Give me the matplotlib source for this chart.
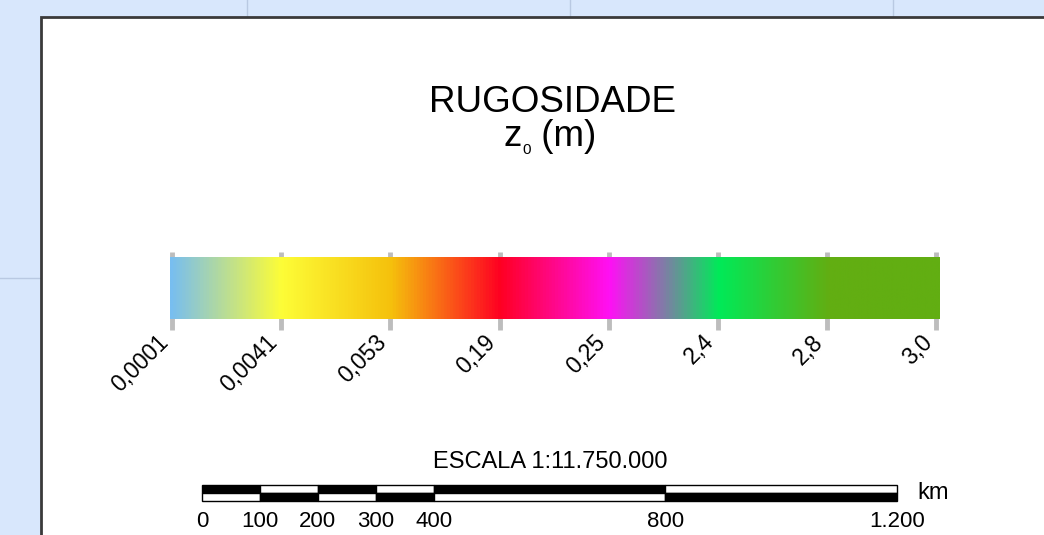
import matplotlib
matplotlib.use("Agg")
import matplotlib.pyplot as plt
import numpy as np
from matplotlib.colors import LinearSegmentedColormap
from matplotlib.patches import Rectangle

plt.rcParams['font.family'] = ['Liberation Sans', 'DejaVu Sans']

# dados da legenda
rotulos = ['0,0001', '0,0041', '0,053', '0,19', '0,25', '2,4', '2,8', '3,0']
cores = ['#78bef0', '#fdfd37', '#f5c10c', '#ff0022', '#ff10f5', '#00ea58', '#62ae12', '#62ae12']

# escala grafica (km)
escala_km = [0, 100, 200, 300, 400, 800, 1200]
escala_rot = ['0', '100', '200', '300', '400', '800', '1.200']

W, H = 1044, 535
fig = plt.figure(figsize=(W / 100, H / 100), dpi=100)
fig.patch.set_facecolor('#d8e7fc')

# fundo com grade do mapa e painel branco
bg = fig.add_axes([0, 0, 1, 1])
bg.set_xlim(0, W)
bg.set_ylim(H, 0)
bg.axis('off')
for gx in [247, 570, 893]:
    bg.plot([gx, gx], [0, H], color='#b9c9e2', lw=1)
bg.plot([0, W], [278, 278], color='#b9c9e2', lw=1)
bg.add_patch(Rectangle((41, 17), W, H, facecolor='white', edgecolor='#3a3a3a', lw=2, zorder=3))

bg.text(552, 112, 'RUGOSIDADE', fontsize=26.5, ha='center', va='baseline', zorder=4)

# z0 (m) com subscrito pequeno, montado em partes
rend = fig.canvas.get_renderer()
partes = [('z', 26.5, 0), ('0', 11, 8), (' (m)', 26.5, 0)]
larg = []
for s, fs, dy in partes:
    t = bg.text(0, 0, s, fontsize=fs)
    larg.append(t.get_window_extent(rend).width)
    t.remove()
x = 550 - sum(larg) / 2
for (s, fs, dy), w in zip(partes, larg):
    bg.text(x, 146 + dy, s, fontsize=fs, ha='left', va='baseline', zorder=4)
    x += w

bg.text(550, 468, 'ESCALA 1:11.750.000', fontsize=17, ha='center', va='baseline', zorder=4)

# barra de cores
n = len(rotulos)
pos = np.arange(n)
pad = 0.023
cax = fig.add_axes([169.5 / W, (H - 331) / H, (939 - 169.5) / W, 81 / H])
cax.set_xlim(-pad, n - 1 + pad)
cax.set_ylim(-12 / 61, 1 + 8 / 61)
cax.axis('off')
cmap = LinearSegmentedColormap.from_list('rug', list(zip(pos / (n - 1), cores)))
grad = np.linspace(0, n - 1, 1200).reshape(1, -1)
cax.imshow(grad, extent=[-pad, n - 1 + pad, 0, 1], aspect='auto', cmap=cmap,
           vmin=0, vmax=n - 1, zorder=2)
cax.vlines(pos, -11 / 61, 1 + 6 / 61, color='#bdbdbd', lw=3.5, zorder=1)
for p, r in zip(pos, rotulos):
    cax.annotate(r, xy=(p, 0), xycoords=('data', 'axes fraction'), xytext=(0.5, 0.5),
                 textcoords='offset points', rotation=45, ha='right', va='top', fontsize=16.5)

# escala grafica
sax = fig.add_axes([202 / W, (H - 501) / H, (897 - 202) / W, 16 / H])
sax.set_xlim(0, escala_km[-1])
sax.set_ylim(0, 2)
sax.axis('off')
for i in range(len(escala_km) - 1):
    x0, x1 = escala_km[i], escala_km[i + 1]
    cima = 'black' if i % 2 == 0 else 'white'
    baixo = 'white' if i % 2 == 0 else 'black'
    sax.add_patch(Rectangle((x0, 1), x1 - x0, 1, facecolor=cima, edgecolor='black', lw=1, clip_on=False))
    sax.add_patch(Rectangle((x0, 0), x1 - x0, 1, facecolor=baixo, edgecolor='black', lw=1, clip_on=False))
for k, r in zip(escala_km, escala_rot):
    sax.annotate(r, xy=(k, 0), xytext=(0, -7), textcoords='offset points',
                 ha='center', va='top', fontsize=16)
sax.annotate('km', xy=(escala_km[-1], 1), xytext=(15, 0), textcoords='offset points',
             ha='left', va='center', fontsize=17)

fig.savefig('out.png', dpi=100, facecolor=fig.get_facecolor())
